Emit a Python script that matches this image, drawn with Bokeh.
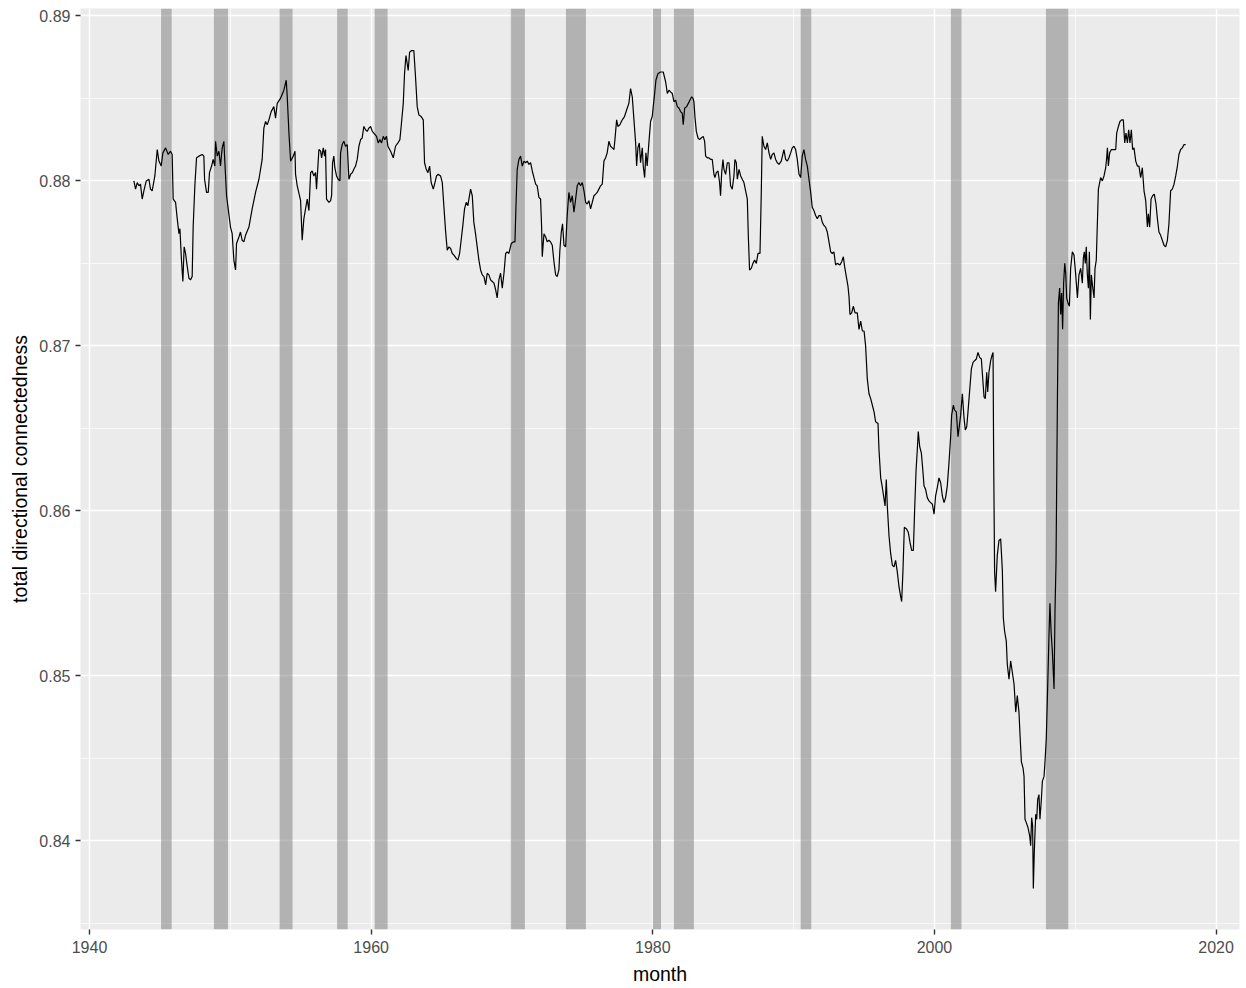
from bokeh.plotting import figure
from bokeh.models import Range1d, FixedTicker, NumeralTickFormatter, BoxAnnotation, ColumnDataSource
from bokeh.embed import file_html
from bokeh.resources import INLINE

# ---- data ----
month = [
    1943.15, 1943.27, 1943.39, 1943.51, 1943.62, 1943.74, 1943.86, 1944.03, 1944.22, 1944.33,
    1944.45, 1944.64, 1944.81, 1944.93, 1945.09, 1945.21, 1945.40, 1945.59, 1945.75, 1945.87,
    1945.94, 1946.11, 1946.23, 1946.35, 1946.42, 1946.53, 1946.63, 1946.72, 1946.82, 1946.94,
    1947.06, 1947.17, 1947.29, 1947.36, 1947.48, 1947.60, 1947.77, 1948.00, 1948.12, 1948.17,
    1948.31, 1948.43, 1948.52, 1948.67, 1948.78, 1948.90, 1948.95, 1949.07, 1949.19, 1949.30,
    1949.42, 1949.54, 1949.59, 1949.73, 1949.85, 1950.01, 1950.13, 1950.25, 1950.37, 1950.44,
    1950.61, 1950.72, 1950.84, 1950.96, 1951.08, 1951.32, 1951.55, 1951.79, 1952.03, 1952.26,
    1952.38, 1952.50, 1952.62, 1952.74, 1952.90, 1953.09, 1953.21, 1953.33, 1953.56, 1953.80,
    1953.97, 1954.04, 1954.16, 1954.28, 1954.47, 1954.59, 1954.63, 1954.75, 1954.99,
    1955.10, 1955.22, 1955.34, 1955.46, 1955.58, 1955.70, 1955.81, 1955.93, 1956.05, 1956.12,
    1956.29, 1956.41, 1956.48, 1956.60, 1956.69, 1956.76, 1956.83, 1957.00, 1957.12, 1957.19,
    1957.26, 1957.35, 1957.42, 1957.54, 1957.66, 1957.78, 1957.83, 1957.94, 1958.06, 1958.18,
    1958.30, 1958.42, 1958.54, 1958.66, 1958.77, 1958.89, 1959.01, 1959.13, 1959.25, 1959.36,
    1959.48, 1959.60, 1959.72, 1959.84, 1959.96, 1960.08, 1960.19, 1960.38, 1960.50, 1960.62,
    1960.74, 1960.86, 1960.97, 1961.09, 1961.19, 1961.38, 1961.57, 1961.73, 1961.90, 1962.04,
    1962.13, 1962.28, 1962.37, 1962.47, 1962.56, 1962.63, 1962.73, 1962.87, 1963.03, 1963.15,
    1963.27, 1963.39, 1963.55, 1963.70, 1963.79, 1963.91, 1964.03, 1964.15, 1964.26, 1964.41,
    1964.53, 1964.64, 1964.76, 1964.93, 1965.05, 1965.16, 1965.28, 1965.40, 1965.52, 1965.64,
    1965.76, 1965.88, 1966.04, 1966.16, 1966.28, 1966.39, 1966.51, 1966.63, 1966.75, 1966.87,
    1966.94, 1967.06, 1967.18, 1967.29, 1967.41, 1967.53, 1967.65,
    1967.77, 1967.89, 1968.01, 1968.13, 1968.24, 1968.36, 1968.48, 1968.60, 1968.72, 1968.84,
    1968.95, 1969.07, 1969.19, 1969.31, 1969.43, 1969.55, 1969.66, 1969.78, 1969.95, 1970.09,
    1970.21, 1970.28, 1970.37, 1970.49, 1970.61, 1970.73, 1970.85, 1970.97, 1971.08, 1971.20,
    1971.32, 1971.44, 1971.56, 1971.68, 1971.79, 1971.91, 1972.03, 1972.10, 1972.15, 1972.27,
    1972.39, 1972.50, 1972.62, 1972.74, 1972.86, 1972.98, 1973.10, 1973.21, 1973.33, 1973.40,
    1973.50, 1973.59, 1973.69, 1973.81, 1973.92, 1974.04, 1974.16, 1974.28, 1974.40, 1974.52,
    1974.63, 1974.75, 1974.87, 1974.99, 1975.11, 1975.23, 1975.34, 1975.46, 1975.58, 1975.70,
    1975.82, 1975.94, 1976.05, 1976.17, 1976.29, 1976.41, 1976.53, 1976.65, 1976.76, 1976.88,
    1977.00, 1977.12, 1977.24, 1977.31, 1977.43, 1977.52, 1977.66, 1977.83, 1977.99, 1978.18,
    1978.30, 1978.42, 1978.54, 1978.66, 1978.78, 1978.85, 1978.94, 1979.04, 1979.13, 1979.25,
    1979.32, 1979.42, 1979.51, 1979.60, 1979.72, 1979.84, 1979.96, 1980.03, 1980.13, 1980.22,
    1980.36,
    1980.55, 1980.74, 1980.91, 1981.03, 1981.15, 1981.26, 1981.38, 1981.50, 1981.62, 1981.74,
    1981.86, 1981.97, 1982.09, 1982.16, 1982.26, 1982.40, 1982.52, 1982.64, 1982.76, 1982.85,
    1982.92, 1982.99, 1983.09, 1983.21, 1983.32, 1983.44, 1983.58, 1983.68, 1983.75, 1983.87,
    1983.99, 1984.10, 1984.22, 1984.34, 1984.41, 1984.51, 1984.63, 1984.74, 1984.81, 1984.89,
    1984.98, 1985.05, 1985.17, 1985.29, 1985.41, 1985.52, 1985.64, 1985.76, 1985.83, 1985.93,
    1986.00, 1986.12, 1986.24, 1986.35, 1986.47, 1986.59, 1986.71, 1986.78, 1986.87, 1986.99,
    1987.11, 1987.23, 1987.35, 1987.47, 1987.61, 1987.70, 1987.77, 1987.89, 1988.01, 1988.13,
    1988.25, 1988.37, 1988.48, 1988.60, 1988.72, 1988.84, 1988.96, 1989.12, 1989.31, 1989.43,
    1989.55, 1989.67, 1989.79, 1989.90, 1990.02, 1990.14, 1990.26, 1990.38, 1990.50, 1990.61,
    1990.73, 1990.85, 1990.97, 1991.09, 1991.21, 1991.32, 1991.44, 1991.56, 1991.68, 1991.80,
    1991.92, 1992.03, 1992.15, 1992.27, 1992.39, 1992.51, 1992.63,
    1992.74, 1992.86, 1992.98, 1993.10, 1993.29, 1993.41, 1993.53, 1993.62, 1993.74, 1993.86,
    1993.93, 1994.00, 1994.12, 1994.24, 1994.36, 1994.52, 1994.64, 1994.76, 1994.88, 1995.00,
    1995.11, 1995.23, 1995.35, 1995.47, 1995.59, 1995.71, 1995.82, 1995.99, 1996.06, 1996.18,
    1996.30, 1996.42, 1996.49, 1996.58, 1996.65, 1996.77, 1996.89, 1997.01, 1997.13, 1997.24,
    1997.36, 1997.48, 1997.60, 1997.67, 1997.76, 1997.86, 1998.02, 1998.14, 1998.26, 1998.38,
    1998.50, 1998.59, 1998.69, 1998.78, 1998.85, 1998.95, 1999.07, 1999.16, 1999.26, 1999.37,
    1999.49, 1999.61, 1999.73, 1999.85, 1999.97, 2000.08, 2000.20, 2000.32, 2000.44, 2000.56,
    2000.68, 2000.79, 2000.91, 2001.03, 2001.15, 2001.22, 2001.34, 2001.43, 2001.55, 2001.67,
    2001.76, 2001.86, 2001.98, 2002.10, 2002.19, 2002.29, 2002.38, 2002.50, 2002.62, 2002.74,
    2002.85, 2002.97, 2003.09, 2003.21, 2003.33, 2003.42, 2003.52, 2003.61, 2003.71, 2003.78,
    2003.87, 2003.99, 2004.08, 2004.16, 2004.20, 2004.27, 2004.34, 2004.46, 2004.58, 2004.70,
    2004.82, 2004.89, 2004.98, 2005.10, 2005.17, 2005.29, 2005.41, 2005.53, 2005.65, 2005.77,
    2005.88, 2006.00, 2006.07, 2006.17, 2006.29, 2006.36, 2006.43, 2006.52, 2006.64, 2006.76,
    2006.83, 2006.90, 2006.97, 2007.02, 2007.09, 2007.19, 2007.26, 2007.33, 2007.42, 2007.49,
    2007.59, 2007.66, 2007.78, 2007.85, 2007.94, 2008.01, 2008.13, 2008.20, 2008.28, 2008.37,
    2008.49, 2008.56, 2008.63, 2008.73, 2008.80, 2008.89, 2008.96, 2009.03, 2009.10, 2009.17,
    2009.25, 2009.32, 2009.39, 2009.48, 2009.58, 2009.67, 2009.79, 2009.91, 2010.03, 2010.15,
    2010.26, 2010.38, 2010.50, 2010.57, 2010.64, 2010.71, 2010.78, 2010.85, 2010.93, 2011.00,
    2011.07, 2011.14, 2011.23, 2011.33, 2011.40, 2011.49, 2011.57, 2011.64, 2011.71, 2011.80,
    2011.92, 2012.04, 2012.16, 2012.23, 2012.28, 2012.35, 2012.44, 2012.56, 2012.70, 2012.87,
    2012.94, 2013.06, 2013.17, 2013.29, 2013.41, 2013.51, 2013.60, 2013.70, 2013.79, 2013.88,
    2013.98, 2014.07, 2014.17, 2014.29, 2014.41, 2014.52, 2014.64, 2014.76, 2014.88, 2015.00,
    2015.12, 2015.19, 2015.28, 2015.38, 2015.49, 2015.61, 2015.73, 2015.83, 2015.94, 2016.06,
    2016.18, 2016.30, 2016.42, 2016.54, 2016.65, 2016.77, 2016.89, 2017.01, 2017.13, 2017.25,
    2017.36, 2017.48, 2017.60, 2017.72, 2017.84,
]

tdc = [
    0.8800, 0.8795, 0.8799, 0.8797, 0.8798, 0.8789, 0.8794, 0.8800, 0.8801, 0.8795,
    0.8794, 0.8803, 0.8819, 0.8812, 0.8809, 0.8817, 0.8820, 0.8816, 0.8818, 0.8816,
    0.8789, 0.8787, 0.8777, 0.8768, 0.8771, 0.8752, 0.8739, 0.8760, 0.8756, 0.8748,
    0.8741, 0.8740, 0.8742, 0.8772, 0.8797, 0.8814, 0.8815, 0.8816, 0.8815, 0.8801,
    0.8793, 0.8793, 0.8805, 0.8809, 0.8813, 0.8809, 0.8824, 0.8815, 0.8818, 0.8809,
    0.8820, 0.8824, 0.8815, 0.8791, 0.8783, 0.8772, 0.8768, 0.8752, 0.8746, 0.8762,
    0.8766, 0.8769, 0.8764, 0.8763, 0.8767, 0.8772, 0.8783, 0.8793, 0.8801, 0.8813,
    0.8832, 0.8836, 0.8834, 0.8837, 0.8842, 0.8845, 0.8838, 0.8847, 0.8850, 0.8855,
    0.8861, 0.8851, 0.8829, 0.8812, 0.8815, 0.8818, 0.8804, 0.8797, 0.8788,
    0.8764, 0.8777, 0.8783, 0.8789, 0.8782, 0.8805, 0.8806, 0.8803, 0.8805, 0.8795,
    0.8819, 0.8818, 0.8814, 0.8820, 0.8815, 0.8819, 0.8789, 0.8787, 0.8788, 0.8791,
    0.8811, 0.8815, 0.8808, 0.8803, 0.8801, 0.8800, 0.8817, 0.8822, 0.8824, 0.8821,
    0.8822, 0.8801, 0.8804, 0.8805, 0.8807, 0.8809, 0.8813, 0.8821, 0.8825, 0.8826,
    0.8833, 0.8831, 0.8830, 0.8832, 0.8833, 0.8830, 0.8829, 0.8827, 0.8823, 0.8825,
    0.8823, 0.8827, 0.8825, 0.8827, 0.8821, 0.8818, 0.8814, 0.8821, 0.8823, 0.8825,
    0.8833, 0.8847, 0.8865, 0.8876, 0.8871, 0.8867, 0.8878, 0.8879, 0.8879, 0.8863,
    0.8845, 0.8840, 0.8839, 0.8837, 0.8811, 0.8807, 0.8805, 0.8809, 0.8799, 0.8795,
    0.8799, 0.8803, 0.8804, 0.8803, 0.8799, 0.8785, 0.8770, 0.8758, 0.8760, 0.8759,
    0.8756, 0.8755, 0.8753, 0.8752, 0.8756, 0.8764, 0.8773, 0.8783, 0.8787, 0.8785,
    0.8789, 0.8795, 0.8791, 0.8775, 0.8768, 0.8760, 0.8752,
    0.8746, 0.8743, 0.8742, 0.8737, 0.8744, 0.8743, 0.8740, 0.8739, 0.8738, 0.8734,
    0.8729, 0.8740, 0.8744, 0.8735, 0.8744, 0.8756, 0.8757, 0.8756, 0.8762, 0.8763,
    0.8763, 0.8784, 0.8807, 0.8813, 0.8815, 0.8809, 0.8812, 0.8811, 0.8812, 0.8810,
    0.8811, 0.8806, 0.8802, 0.8798, 0.8797, 0.8790, 0.8789, 0.8773, 0.8754, 0.8768,
    0.8766, 0.8763, 0.8764, 0.8763, 0.8761, 0.8751, 0.8743, 0.8742, 0.8746, 0.8758,
    0.8769, 0.8774, 0.8761, 0.8760, 0.8779, 0.8793, 0.8787, 0.8791, 0.8781, 0.8789,
    0.8797, 0.8799, 0.8797, 0.8799, 0.8794, 0.8787, 0.8786, 0.8788, 0.8783, 0.8787,
    0.8791, 0.8792, 0.8793, 0.8795, 0.8797, 0.8798, 0.8812, 0.8814, 0.8817, 0.8824,
    0.8821, 0.8820, 0.8819, 0.8825, 0.8837, 0.8833, 0.8834, 0.8837, 0.8839, 0.8844,
    0.8847, 0.8856, 0.8851, 0.8837, 0.8823, 0.8809, 0.8820, 0.8823, 0.8811, 0.8820,
    0.8809, 0.8802, 0.8817, 0.8809, 0.8823, 0.8836, 0.8839, 0.8845, 0.8853, 0.8861,
    0.8865,
    0.8866, 0.8866, 0.8860, 0.8853, 0.8855, 0.8854, 0.8853, 0.8848, 0.8849, 0.8845,
    0.8844, 0.8842, 0.8841, 0.8834, 0.8844, 0.8845, 0.8847, 0.8849, 0.8851, 0.8850,
    0.8848, 0.8839, 0.8830, 0.8826, 0.8825, 0.8826, 0.8827, 0.8824, 0.8815, 0.8814,
    0.8814, 0.8813, 0.8813, 0.8804, 0.8802, 0.8805, 0.8806, 0.8799, 0.8791, 0.8805,
    0.8813, 0.8807, 0.8804, 0.8811, 0.8811, 0.8797, 0.8795, 0.8803, 0.8813, 0.8811,
    0.8801, 0.8807, 0.8803, 0.8801, 0.8799, 0.8794, 0.8789, 0.8767, 0.8746, 0.8747,
    0.8750, 0.8752, 0.8750, 0.8756, 0.8756, 0.8792, 0.8827, 0.8821, 0.8819, 0.8823,
    0.8817, 0.8813, 0.8816, 0.8817, 0.8813, 0.8811, 0.8810, 0.8812, 0.8819, 0.8813,
    0.8812, 0.8814, 0.8817, 0.8820, 0.8821, 0.8819, 0.8813, 0.8804, 0.8802, 0.8815,
    0.8819, 0.8813, 0.8809, 0.8801, 0.8793, 0.8784, 0.8782, 0.8779, 0.8777, 0.8779,
    0.8779, 0.8775, 0.8773, 0.8772, 0.8769, 0.8763, 0.8757,
    0.8756, 0.8757, 0.8749, 0.8750, 0.8749, 0.8751, 0.8754, 0.8748, 0.8742, 0.8736,
    0.8730, 0.8719, 0.8720, 0.8724, 0.8720, 0.8720, 0.8710, 0.8715, 0.8709, 0.8709,
    0.8700, 0.8680, 0.8671, 0.8668, 0.8664, 0.8660, 0.8654, 0.8653, 0.8637, 0.8620,
    0.8614, 0.8607, 0.8603, 0.8619, 0.8603, 0.8585, 0.8574, 0.8567, 0.8566, 0.8570,
    0.8563, 0.8554, 0.8548, 0.8545, 0.8563, 0.8590, 0.8589, 0.8587, 0.8581, 0.8576,
    0.8576, 0.8600, 0.8624, 0.8637, 0.8648, 0.8639, 0.8635, 0.8626, 0.8615, 0.8613,
    0.8608, 0.8606, 0.8605, 0.8604, 0.8598, 0.8609, 0.8614, 0.8620, 0.8617, 0.8609,
    0.8605, 0.8608, 0.8615, 0.8629, 0.8645, 0.8658, 0.8664, 0.8661, 0.8660, 0.8645,
    0.8651, 0.8658, 0.8671, 0.8656, 0.8649, 0.8651, 0.8660, 0.8673, 0.8686, 0.8690,
    0.8691, 0.8692, 0.8696, 0.8693, 0.8692, 0.8681, 0.8669, 0.8668, 0.8684, 0.8672,
    0.8684, 0.8691, 0.8694, 0.8696, 0.8635, 0.8563, 0.8551, 0.8573, 0.8582, 0.8583,
    0.8564, 0.8535, 0.8527, 0.8521, 0.8507, 0.8498, 0.8509, 0.8502, 0.8495, 0.8478,
    0.8488, 0.8478, 0.8465, 0.8448, 0.8444, 0.8439, 0.8413, 0.8411, 0.8408, 0.8403,
    0.8397, 0.8414, 0.8409, 0.8371, 0.8394, 0.8416, 0.8413, 0.8425, 0.8428, 0.8413,
    0.8425, 0.8436, 0.8439, 0.8448, 0.8462, 0.8484, 0.8524, 0.8544, 0.8527, 0.8515,
    0.8492, 0.8540, 0.8568, 0.8667, 0.8726, 0.8735, 0.8719, 0.8732, 0.8710, 0.8738,
    0.8750, 0.8744, 0.8729, 0.8726, 0.8724, 0.8747, 0.8757, 0.8755, 0.8743, 0.8729,
    0.8743, 0.8747, 0.8738, 0.8753, 0.8757, 0.8750, 0.8760, 0.8744, 0.8735, 0.8757,
    0.8716, 0.8743, 0.8736, 0.8729, 0.8747, 0.8752, 0.8775, 0.8795, 0.8798, 0.8802,
    0.8800, 0.8803, 0.8808, 0.8814, 0.8820, 0.8809, 0.8817, 0.8819, 0.8819, 0.8819,
    0.8829, 0.8833, 0.8836, 0.8837, 0.8837, 0.8823, 0.8829, 0.8823, 0.8831, 0.8823,
    0.8831, 0.8819, 0.8820, 0.8812, 0.8809, 0.8809, 0.8802, 0.8808, 0.8794, 0.8788,
    0.8772, 0.8780, 0.8772, 0.8789, 0.8791, 0.8792, 0.8786, 0.8777, 0.8769, 0.8767,
    0.8764, 0.8761, 0.8760, 0.8764, 0.8774, 0.8794, 0.8795, 0.8798, 0.8803, 0.8809,
    0.8816, 0.8819, 0.8820, 0.8822, 0.8822,
]

# NBER recessions (peak month start to trough month end), decimal years
rec_start = [1945.083, 1948.833, 1953.500, 1957.583, 1960.250, 1969.917,
             1973.833, 1980.000, 1981.500, 1990.500, 2001.167, 2007.917]
rec_end = [1945.833, 1949.833, 1954.417, 1958.333, 1961.167, 1970.917,
           1975.250, 1980.583, 1982.917, 1991.250, 2001.917, 2009.500]

x_ticks = [1940, 1960, 1980, 2000, 2020]
x_minor = [1950, 1970, 1990, 2010]
y_ticks = [0.84, 0.85, 0.86, 0.87, 0.88, 0.89]
y_minor = [0.835, 0.845, 0.855, 0.865, 0.875, 0.885]

FONT = "Liberation Sans"

p = figure(width=1246, height=988, output_backend="svg", toolbar_location=None,
           x_range=Range1d(1939.36, 2021.66), y_range=Range1d(0.83462, 0.89045),
           min_border_left=80, min_border_right=7, min_border_top=8, min_border_bottom=59)

p.background_fill_color = "#EBEBEB"
p.border_fill_color = "white"
p.outline_line_color = None

p.xaxis.ticker = FixedTicker(ticks=x_ticks, minor_ticks=x_minor)
p.yaxis.ticker = FixedTicker(ticks=y_ticks, minor_ticks=y_minor)
p.xaxis.formatter = NumeralTickFormatter(format="0")
p.yaxis.formatter = NumeralTickFormatter(format="0.00")

for g in (p.xgrid, p.ygrid):
    g.grid_line_color = "white"
    g.grid_line_width = 1.4
    g.minor_grid_line_color = "white"
    g.minor_grid_line_width = 0.7

for ax in (p.xaxis, p.yaxis):
    ax.axis_line_color = None
    ax.major_tick_line_color = "#333333"
    ax.major_tick_line_width = 1.4
    ax.major_tick_out = 5
    ax.major_tick_in = 0
    ax.minor_tick_line_color = None
    ax.major_label_text_font = FONT
    ax.major_label_text_font_size = "16px"
    ax.major_label_text_color = "#4D4D4D"
    ax.axis_label_text_font = FONT
    ax.axis_label_text_font_size = "19.5px"
    ax.axis_label_text_color = "black"
    ax.axis_label_text_font_style = "normal"

p.xaxis.axis_label = "month"
p.yaxis.axis_label = "total directional connectedness"
p.xaxis.major_label_standoff = 6
p.yaxis.major_label_standoff = 5
p.xaxis.axis_label_standoff = 7
p.yaxis.axis_label_standoff = 5

for s, e in zip(rec_start, rec_end):
    p.add_layout(BoxAnnotation(left=s, right=e, fill_color="#7A7A7A", fill_alpha=0.5,
                               line_alpha=0, level="underlay"))

src = ColumnDataSource(data=dict(month=month, tdc=tdc))
p.line("month", "tdc", source=src, line_color="black", line_width=1.2)

open("out.html", "w").write(file_html(p, INLINE))
